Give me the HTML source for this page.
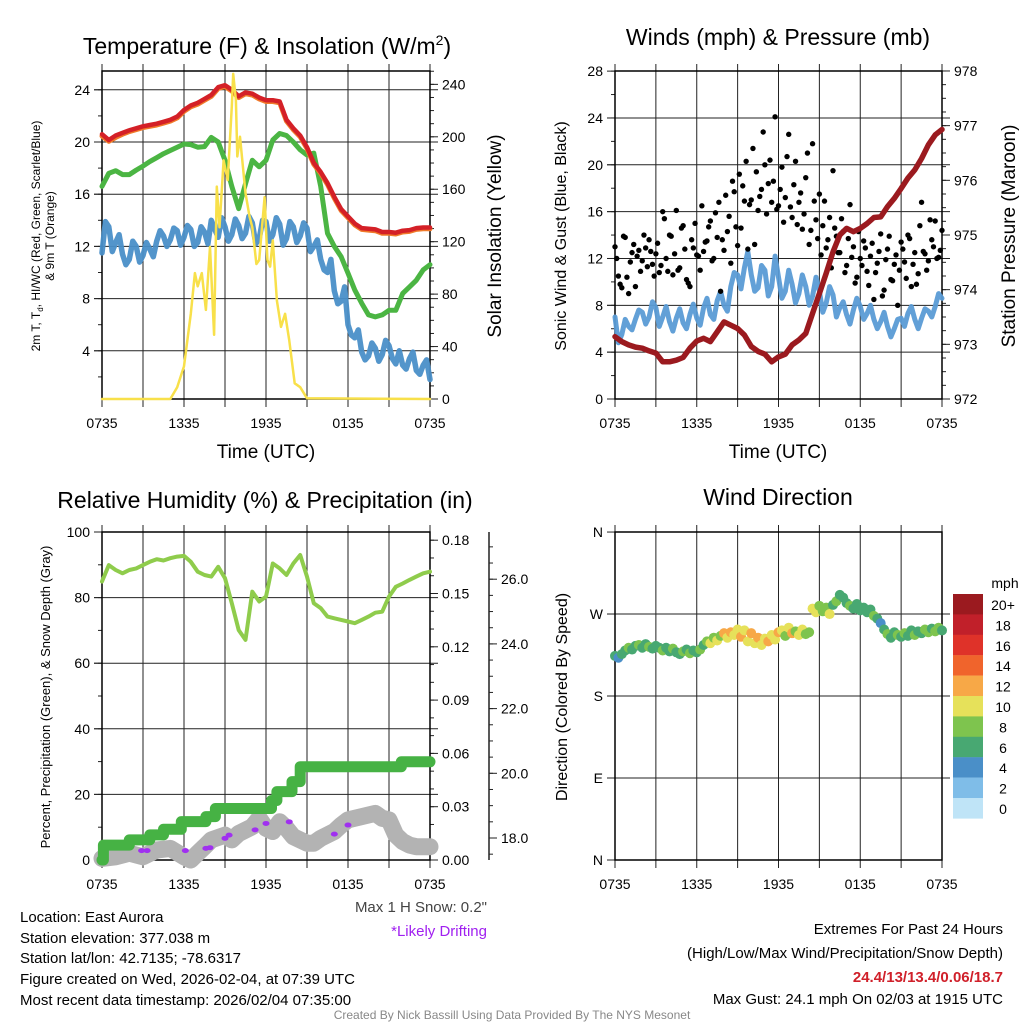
<!DOCTYPE html>
<html><head><meta charset="utf-8">
<style>
html,body{margin:0;padding:0;background:#fff;}
svg{display:block;font-family:"Liberation Sans",Arial,sans-serif;}
</style></head>
<body>
<svg id="fig" width="1024" height="1024" viewBox="0 0 1024 1024" xmlns="http://www.w3.org/2000/svg">
<rect width="1024" height="1024" fill="#fff"/>
<g id="texts" font-family="Liberation Sans, Arial, sans-serif" fill="#000">
<text x="267" y="54" font-size="23" text-anchor="middle">Temperature (F) &amp; Insolation (W/m<tspan font-size="14" dy="-9">2</tspan><tspan dy="9">)</tspan></text>
<text x="778" y="45" font-size="23" text-anchor="middle">Winds (mph) &amp; Pressure (mb)</text>
<text x="265" y="508" font-size="23" text-anchor="middle">Relative Humidity (%) &amp; Precipitation (in)</text>
<text x="778" y="505" font-size="23" text-anchor="middle">Wind Direction</text>
<text x="266" y="458" font-size="19" text-anchor="middle">Time (UTC)</text>
<text x="778" y="458" font-size="19" text-anchor="middle">Time (UTC)</text>
<text transform="translate(40,236) rotate(-90)" font-size="12" text-anchor="middle"><tspan x="0" y="0">2m T, T<tspan font-size="8" dy="3">d</tspan><tspan dy="-3">, HI/WC (Red, Green, Scarlet/Blue)</tspan></tspan><tspan x="0" y="14">&amp; 9m T (Orange)</tspan></text>
<text transform="translate(501,236) rotate(-90)" font-size="19" text-anchor="middle">Solar Insolation (Yellow)</text>
<text transform="translate(566,236) rotate(-90)" font-size="16" text-anchor="middle">Sonic Wind &amp; Gust (Blue, Black)</text>
<text transform="translate(1015,236) rotate(-90)" font-size="19" text-anchor="middle">Station Pressure (Maroon)</text>
<text transform="translate(50,697) rotate(-90)" font-size="13" text-anchor="middle">Percent, Precipitation (Green), &amp; Snow Depth (Gray)</text>
<text transform="translate(567,697) rotate(-90)" font-size="16" text-anchor="middle">Direction (Colored By Speed)</text>
<text x="487" y="912" font-size="15" fill="#444" text-anchor="end">Max 1 H Snow: 0.2"</text>
<text x="487" y="936" font-size="15" fill="#a020f0" text-anchor="end">*Likely Drifting</text>
<g font-size="15">
<text x="20" y="922">Location: East Aurora</text>
<text x="20" y="943">Station elevation: 377.038 m</text>
<text x="20" y="963">Station lat/lon: 42.7135; -78.6317</text>
<text x="20" y="984">Figure created on Wed, 2026-02-04, at 07:39 UTC</text>
<text x="20" y="1005">Most recent data timestamp: 2026/02/04 07:35:00</text>
</g>
<g font-size="15" text-anchor="end">
<text x="1003" y="934">Extremes For Past 24 Hours</text>
<text x="1003" y="958">(High/Low/Max Wind/Precipitation/Snow Depth)</text>
<text x="1003" y="982" fill="#d0202a" font-weight="bold">24.4/13/13.4/0.06/18.7</text>
<text x="1003" y="1004">Max Gust: 24.1 mph On 02/03 at 1915 UTC</text>
</g>
<text x="512" y="1019" font-size="12" fill="#888" text-anchor="middle">Created By Nick Bassill Using Data Provided By The NYS Mesonet</text>
</g>
</svg>
<script>
// ---------- DATA ----------
const xTickLabels = ["0735","1335","1935","0135","0735"];
const tempT = [20.6,20.15,20.5,20.7,20.9,21.05,21.2,21.3,21.4,21.55,21.7,21.95,22.45,22.8,23.0,23.3,23.6,24.2,24.35,24.0,23.5,23.8,23.7,23.4,23.2,23.2,23.1,21.7,21.05,20.5,19.6,18.4,17.7,16.85,15.8,14.85,14.3,13.75,13.4,13.35,13.3,13.1,13.1,13.05,13.2,13.25,13.4,13.45,13.45];
const temp9m = [20.45,20.05,20.35,20.6,20.8,20.95,21.1,21.2,21.3,21.45,21.6,21.85,22.35,22.7,22.9,23.2,23.5,24.1,24.25,23.9,23.4,23.7,23.6,23.3,23.1,23.1,23.0,21.6,20.95,20.4,19.5,18.3,17.6,16.75,15.7,14.75,14.2,13.65,13.3,13.25,13.2,13.0,13.0,12.95,13.1,13.15,13.3,13.35,13.35];
const dewT = [16.6,17.6,17.8,17.5,17.5,17.85,18.15,18.5,18.8,19.1,19.35,19.6,19.85,19.8,19.6,19.65,20.35,20.0,18.6,16.6,14.9,16.8,18.6,18.1,18.6,20.15,20.65,20.5,20.0,19.4,19.0,19.15,16.6,13.0,12.0,11.2,9.95,8.65,7.65,6.75,6.6,6.75,7.1,7.1,8.4,8.9,9.4,10.2,10.6];
const windChill = [11.5,13.5,12.3,11.4,11.0,12.0,11.3,11.8,12.4,12.8,12.5,13.2,12.7,13.3,12.3,13.1,14.0,12.7,13.5,12.9,13.6,13.0,13.8,12.6,13.9,12.9,13.7,12.6,13.5,12.8,13.4,12.0,11.0,10.0,8.6,7.8,6.0,5.0,3.9,3.6,4.2,3.7,4.4,3.0,2.9,3.4,2.5,2.9,1.8];
const windChillQ = [13.9,11.6,12.9,10.6,12.4,10.8,12.3,11.2,13.2,12.0,13.4,12.1,13.6,12.0,13.5,12.2,13.3,14.2,12.4,14.1,12.6,14.3,12.2,14.0,12.4,14.2,12.1,13.9,12.3,13.8,11.6,12.5,10.2,11.0,7.6,8.9,5.2,5.6,3.3,4.6,3.2,4.8,3.4,4.0,2.6,3.9,2.2,3.3];
const solarT = [0,5.0,5.5,6.0,6.5,6.8,7.0,7.3,7.6,7.9,8.2,8.4,8.6,8.9,9.2,9.5,9.6,9.8,9.9,10.1,10.5,10.8,11.0,11.3,11.5,11.9,12.1,12.3,12.5,12.8,13.1,13.4,13.7,14.1,14.5,15.0,24];
const solarW = [0,0,9,25,65,96,86,96,68,116,49,162,131,182,167,223,248,228,185,200,157,139,131,103,106,154,106,101,121,75,55,65,45,12,9,0.5,0];
const tempLeftTicks = [4,8,12,16,20,24];
const tempRightTicks = [0,40,80,120,160,200,240];

const pressure = [973.14,973.05,972.99,972.95,972.93,972.88,972.84,972.68,972.68,972.71,972.76,972.93,973.06,973.11,973.05,973.23,973.41,973.35,973.29,973.17,972.96,972.87,972.82,972.68,972.77,972.82,972.99,973.08,973.20,973.57,973.93,974.30,974.69,975.0,975.12,975.06,975.12,975.21,975.32,975.33,975.52,975.67,975.85,976.04,976.19,976.40,976.65,976.83,976.93];
const sonicWind = [7.0,5.5,6.2,6.8,7.4,7.0,7.8,7.0,6.6,6.9,6.5,7.2,6.9,7.8,7.2,8.4,8.0,9.6,10.6,11.2,10.6,9.5,11.0,9.6,10.4,9.2,9.8,9.0,9.6,8.8,9.2,8.2,8.9,7.8,7.2,7.6,7.9,7.3,6.8,6.6,6.2,6.0,6.9,7.3,6.8,6.9,7.5,7.9,8.6];
const sonicQ = [4.8,6.8,5.9,7.6,6.4,8.3,6.2,7.9,5.8,7.7,6.0,8.1,6.3,8.6,6.8,9.2,7.5,10.8,9.4,12.6,9.2,11.4,8.8,12.2,8.6,11.0,8.2,10.6,8.0,10.4,7.4,9.6,7.0,8.3,6.4,8.6,6.8,8.0,6.0,7.4,5.3,6.8,6.2,7.9,6.0,7.7,7.0,9.0];
const gustA = [13.0,10.5,9.5,13.8,9.0,12.5,9.6,12.7,11.8,12.9,13.6,11.5,12.4,10.8,16.0,12.0,14.0,10.6,16.1,11.2,14.8,10.2,9.6,12.9,12.3,11.0,12.6,13.5,15.2,12.0,13.8,9.2,12.7,14.3,11.6,17.7,13.1,14.6,16.9,12.8,17.0,13.2,16.1,17.9,20.0,18.4,16.8,24.1,16.5,19.8,17.2,22.6,15.5,20.3,16.8,14.5,18.9,13.2,21.8,15.3,17.5,14.8,12.9,15.5,19.5,13.9,12.5,14.3,11.4,16.6,13.0,10.4,12.0,13.5,10.9,12.2,8.5,11.6,14.1,9.3,12.8,10.2,11.5,8.0,13.4,11.7,14.0,9.6,12.5,10.7,16.8,12.4,11.8,13.6,15.2,12.1,14.4];
const gustB = [12.0,9.8,13.9,10.4,11.7,13.2,12.2,10.9,14.0,11.3,12.6,10.5,13.3,11.4,15.4,10.9,13.9,12.4,11.0,14.6,12.8,9.9,13.6,15.0,12.2,16.5,13.4,14.7,11.8,15.9,16.8,13.6,17.4,15.6,18.6,14.7,19.2,18.2,20.3,16.6,21.4,19.4,17.3,22.8,15.8,20.4,18.6,16.2,17.9,15.1,20.7,16.4,18.3,14.9,17.6,15.8,21.0,14.4,16.9,13.7,12.3,16.9,13.6,11.2,14.6,12.5,15.4,10.8,13.7,12.1,9.9,14.3,11.4,12.9,9.7,13.3,10.8,12.6,8.8,11.9,13.9,10.1,12.3,11.0,12.8,10.3,13.7,11.5,9.8,14.8,12.6,11.0,15.3,13.0,12.0,12.7];
const windLeftTicks = [0,4,8,12,16,20,24,28];
const pressTicks = [972,973,974,975,976,977,978];

const rh = [84.9,89.9,88.4,87.4,88.4,88.9,89.9,90.9,91.7,91.3,92,92.5,92.7,90.9,87.9,86.9,86.4,89.4,85.9,78.3,70.1,67.1,81.8,78.8,80.3,90.4,88.9,86.9,90.4,93,86.4,78.3,76.8,74.2,73.7,73.2,72.7,72.2,73.2,74.2,75.4,75.7,80.3,83.3,84.3,85.4,86.4,87.4,87.9];
const precipT = [0,0.1,2.0,3.5,4.5,5.8,7.6,8.3,12.4,12.8,13.9,14.5,21.9,24];
const precipV = [0,0.0084,0.0113,0.0141,0.0173,0.0216,0.0244,0.029,0.0335,0.0385,0.0441,0.0525,0.0553,0.0553];
const snowT = [0,1,2,3,4,5,6,6.5,7,7.5,8,9,9.5,10,11,11.5,12,12.5,13,13.5,14,15,15.5,16,17,17.5,18,19,20,20.5,21,21.5,22,22.5,23,24];
const snowV = [17.37,17.42,17.53,17.42,17.63,17.68,17.42,17.32,17.53,17.73,17.94,18.09,17.94,18.14,18.35,18.61,18.30,18.20,18.50,18.30,18.04,17.84,17.84,17.99,18.20,18.40,18.56,18.66,18.76,18.61,18.56,18.09,17.89,17.78,17.73,17.73];
const driftT = [2.9,3.3,6.1,7.6,7.9,9.0,9.3,11.2,12.0,13.7,17.0,18.0];
const driftV = [17.61,17.61,17.61,17.68,17.70,17.99,18.09,18.25,18.45,18.50,18.12,18.40];
const rhTicks = [0,20,40,60,80,100];
const precipTicks = [0,0.03,0.06,0.09,0.12,0.15,0.18];
const precipTickLabels = ["0.00","0.03","0.06","0.09","0.12","0.15","0.18"];
const snowTicks = [18,20,22,24,26];
const snowTickLabels = ["18.0","20.0","22.0","24.0","26.0"];

const wdir = [224,222,226,230,233,231,235,236,233,237,234,232,235,233,230,233,229,232,228,226,229,231,227,230,228,231,236,240,238,244,241,246,249,244,250,247,253,245,252,240,249,238,244,236,243,240,247,242,250,252,246,255,249,251,247,253,248,250,276,272,279,273,277,270,280,284,291,288,282,279,276,281,274,277,272,275,268,265,260,253,248,244,250,247,245,249,246,252,247,251,249,253,250,254,251,255,252];
const wspd = [6,5,7,6,8,7,6,8,7,6,8,7,6,7,8,6,7,8,7,6,8,7,8,7,6,8,7,9,10,8,11,9,12,10,12,11,10,12,10,11,13,10,12,11,10,12,11,10,12,11,9,10,12,9,10,11,8,9,10,11,8,9,8,10,7,8,7,6,7,8,7,6,7,6,7,6,8,6,5,7,8,6,7,8,7,8,7,6,8,7,6,8,8,7,8,8,7];
const dirTicks = [0,90,180,270,360];
const dirTickLabels = ["N","E","S","W","N"];
const speedLabels = ["20+","18","16","14","12","10","8","6","4","2","0"];
const speedColors = ["#9b1a1f","#c1202a","#df3229","#f0642c","#f7a847","#e6e15a","#7ec44e","#48a872","#4a8fc8","#7fbde8","#bfe4f7"];

// ---------- DRAW ----------
const NS="http://www.w3.org/2000/svg";
const svg=document.getElementById('fig');
function mk(tag,attrs,parent){const e=document.createElementNS(NS,tag);for(const k in attrs)e.setAttribute(k,attrs[k]);(parent||svg).appendChild(e);return e;}
function pathFrom(ts,vs,fx,fy){let d='';for(let i=0;i<ts.length;i++){d+=(i?'L':'M')+fx(ts[i]).toFixed(1)+','+fy(vs[i]).toFixed(1);}return d;}
function stepPath(ts,vs,fx,fy){let d='M'+fx(ts[0])+','+fy(vs[0]);for(let i=1;i<ts.length;i++){d+='L'+fx(ts[i]).toFixed(1)+','+fy(vs[i-1]).toFixed(1)+'L'+fx(ts[i]).toFixed(1)+','+fy(vs[i]).toFixed(1);}return d;}
function interleave(a,b){const t=[],v=[];for(let i=0;i<a.length;i++){t.push(i*0.5);v.push(a[i]);if(i<b.length){t.push(i*0.5+0.25);v.push(b[i]);}}return {t,v};}
const halfHours = rh.map((_,i)=>i*0.5);

function frame(p,name){
  const g=mk('g',{});
  
  
  const xs=h=>p.x0+h/24*(p.x1-p.x0);
  for(let h=0;h<=24;h+=3){
    const l=mk('line',{x1:xs(h),x2:xs(h),y1:p.y0-7,y2:p.y1+8,stroke:'#222','stroke-width':1},g);
    
    
  }
  xTickLabels.forEach((lab,i)=>{
    const t=mk('text',{x:xs(i*6),y:p.y1+29,'font-size':14,'text-anchor':'middle'},g);
    t.textContent=lab;
    
    
  });
  return {g,xs};
}
function hgrid(g,p,ys,name){ys.forEach(y=>{const l=mk('line',{x1:p.x0-8,x2:p.x1+8,y1:y,y2:y,stroke:'#222','stroke-width':1},g);});}
function leftTicks(g,p,vals,labels,fy,minorStep,vmin,vmax,name,size){
  for(let v=vmin;v<=vmax+1e-9;v+=minorStep){const y=fy(v);if(y<p.y0-0.5||y>p.y1+0.5)continue;mk('line',{x1:p.x0-4,x2:p.x0,y1:y,y2:y,stroke:'#222'},g);}
  vals.forEach((v,i)=>{const y=fy(v);mk('line',{x1:p.x0-8,x2:p.x0,y1:y,y2:y,stroke:'#222'},g);const t=mk('text',{x:p.x0-12,y:y+5,'font-size':size||14,'text-anchor':'end'},g);t.textContent=labels[i];});
}
function rightTicks(g,ax,p,vals,labels,fy,minorStep,vmin,vmax,name){
  for(let v=vmin;v<=vmax+1e-9;v+=minorStep){const y=fy(v);if(y<p.y0-0.5||y>p.y1+0.5)continue;mk('line',{x1:ax,x2:ax+4,y1:y,y2:y,stroke:'#222'},g);}
  vals.forEach((v,i)=>{const y=fy(v);mk('line',{x1:ax,x2:ax+8,y1:y,y2:y,stroke:'#222'},g);const t=mk('text',{x:ax+12,y:y+5,'font-size':14},g);t.textContent=labels[i];});
}
function box(g,p){const r=mk('rect',{x:p.x0,y:p.y0,width:p.x1-p.x0,height:p.y1-p.y0,fill:'none',stroke:'#000','stroke-width':1.5},g);}
function line(d,color,w,name,op){const e=mk('path',{d:d,fill:'none',stroke:color,'stroke-width':w,'stroke-linejoin':'round','stroke-linecap':'round',opacity:op||1});return e;}

// Panel 1
(function(){
  const p={x0:102,x1:430,y0:71,y1:399};
  const {g,xs}=frame(p,'temp');
  const yL=v=>403-13.05*v, yR=w=>399-1.311*w;
  hgrid(g,p,tempLeftTicks.map(yL),'temp');
  leftTicks(g,p,tempLeftTicks,tempLeftTicks.map(String),yL,2,0,26,'temp-left');
  rightTicks(g,p.x1,p,tempRightTicks,tempRightTicks.map(String),yR,10,0,250,'insolation');
  const wc=interleave(windChill,windChillQ);
  line(pathFrom(wc.t,wc.v,xs,yL),'#4a8fc8',5.5,'windchill-line',0.95);
  line(pathFrom(halfHours,dewT,xs,yL),'#4bb543',5,'dewpoint-line');
  line(pathFrom(halfHours,temp9m,xs,yL),'#f07a2a',5,'temp-9m-line');
  line(pathFrom(halfHours,tempT,xs,yL),'#d42027',4.5,'temp-2m-line');
  line(pathFrom(solarT,solarW,xs,yR),'#f8e04a',2.5,'insolation-line');
  box(g,p);
})();

// Panel 2
(function(){
  const p={x0:615,x1:942,y0:71,y1:399};
  const {g,xs}=frame(p,'wind');
  const yL=v=>399-11.71*v, yP=v=>399-(v-972)*54.67;
  hgrid(g,p,windLeftTicks.slice(1,7).map(yL),'wind');
  leftTicks(g,p,windLeftTicks,windLeftTicks.map(String),yL,2,0,28,'wind-left');
  rightTicks(g,p.x1,p,pressTicks,pressTicks.map(String),yP,0.25,972,978,'pressure');
  const sw=interleave(sonicWind,sonicQ);
  line(pathFrom(sw.t,sw.v,xs,yL),'#5a9bd5',5,'sonic-wind-line',0.95);
  gustA.forEach((v,i)=>{const c=mk('circle',{cx:xs(i*0.25),cy:yL(v),r:2.7,fill:'#000'});});
  gustB.forEach((v,i)=>{const c=mk('circle',{cx:xs(i*0.25+0.125),cy:yL(v),r:2.7,fill:'#000'});});
  line(pathFrom(halfHours,pressure,xs,yP),'#9b1a1f',5.5,'pressure-line');
  box(g,p);
})();

// Panel 3
(function(){
  const p={x0:102,x1:430,y0:532,y1:860};
  const {g,xs}=frame(p,'rh');
  const yRH=v=>860-3.28*v, yPr=v=>860-v/0.03*53.3, ySn=d=>838-(d-18)*32.35;
  hgrid(g,p,[20,40,60,80].map(yRH),'rh');
  leftTicks(g,p,rhTicks,rhTicks.map(String),yRH,10,0,100,'rh-left');
  rightTicks(g,p.x1,p,precipTicks,precipTickLabels,yPr,0.01,0,0.18,'precip');
  const ax2=mk('line',{x1:489,x2:489,y1:p.y0,y2:p.y1,stroke:'#222','stroke-width':1.5},g);
  
  
  rightTicks(g,489,p,snowTicks,snowTickLabels,ySn,0.5,17.5,27.5,'snow');
  line(pathFrom(snowT,snowV,xs,ySn),'#b3b3b3',17,'snow-depth-line');
  driftT.forEach((t,i)=>{const e=mk('ellipse',{cx:xs(t),cy:ySn(driftV[i]),rx:3.5,ry:2.5,fill:'#a030f0'});});
  line(stepPath(precipT,precipV,xs,yPr),'#46b244',11,'precip-line');
  line(pathFrom(halfHours,rh,xs,yRH),'#8fcc4c',4,'rh-line');
  box(g,p);
})();

// Panel 4
(function(){
  const p={x0:615,x1:942,y0:532,y1:860};
  const {g,xs}=frame(p,'wdir');
  const yD=d=>860-d*0.911;
  hgrid(g,p,[90,180,270].map(yD),'wdir');
  leftTicks(g,p,dirTicks,dirTickLabels,yD,1000,0,360,'wdir-left');
  wdir.forEach((d,i)=>{
    const idx=Math.max(0,Math.min(10,Math.floor(wspd[i]/2)));
    const c=mk('circle',{cx:xs(i*0.25),cy:yD(d),r:5,fill:speedColors[10-idx]});
    
    
  });
  box(g,p);
  const cb=mk('g',{});
  
  
  const t0=mk('text',{x:1005,y:588,'font-size':14,'text-anchor':'middle'},cb);t0.textContent='mph';
  speedLabels.forEach((lab,i)=>{
    const r=mk('rect',{x:953,y:594+i*20.4,width:30,height:20.6,fill:speedColors[i]},cb);
    
    
    const t=mk('text',{x:1003,y:594+i*20.4+16,'font-size':14,'text-anchor':'middle'},cb);
    t.textContent=lab;
    
    
  });
})();
</script>
</body></html>
